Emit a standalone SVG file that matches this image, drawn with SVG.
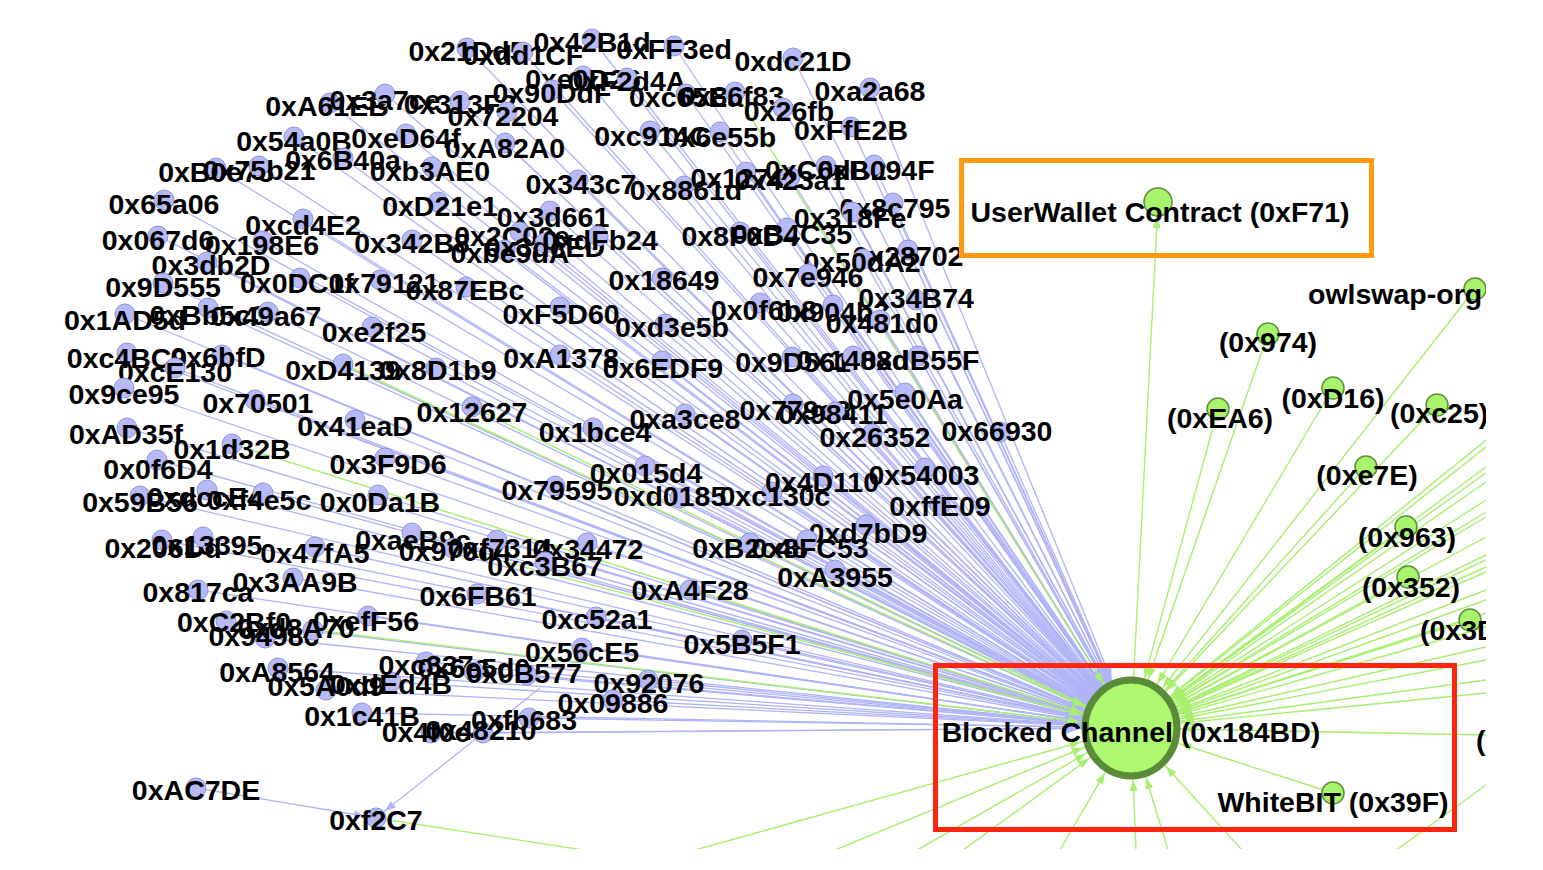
<svg xmlns="http://www.w3.org/2000/svg" width="1543" height="870" viewBox="0 0 1543 870">
<style>
.eb{stroke:#b0b4f7;stroke-width:1.3;fill:none;marker-end:url(#ab)}
.eg{stroke:#a7ef6e;stroke-width:1.4;fill:none;marker-end:url(#ag)}
.en{stroke:#a7ef6e;stroke-width:1.4;fill:none}
.ebs{stroke:#b0b4f7;stroke-width:1.3;fill:none;marker-end:url(#abs)}
.nb circle{fill:#b6baf6;stroke:#9094d8;stroke-width:1}
.ng circle{fill:#a8f46c;stroke:#5e8f3a;stroke-width:1.5}
text{font-family:"Liberation Sans",Arial,sans-serif;font-weight:bold;font-size:28.5px;fill:#000;text-anchor:middle}
text.st{text-anchor:start}
</style>
<defs>
<clipPath id="clip"><rect x="0" y="0" width="1486" height="849"/></clipPath>
<marker id="ab" markerUnits="userSpaceOnUse" orient="auto" refX="51" refY="0" markerWidth="80" markerHeight="20" overflow="visible"><path d="M0,0 L-15,-5.5 L-15,5.5 Z" fill="#b0b4f7"/></marker>
<marker id="ag" markerUnits="userSpaceOnUse" orient="auto" refX="52" refY="0" markerWidth="80" markerHeight="20" overflow="visible"><path d="M0,0 L-11,-4 L-11,4 Z" fill="#a7ef6e"/></marker>
<marker id="abs" markerUnits="userSpaceOnUse" orient="auto" refX="11" refY="0" markerWidth="30" markerHeight="20" overflow="visible"><path d="M0,0 L-11,-4 L-11,4 Z" fill="#b0b4f7"/></marker>
<marker id="agw" markerUnits="userSpaceOnUse" orient="auto" refX="15" refY="0" markerWidth="30" markerHeight="20" overflow="visible"><path d="M0,0 L-11,-4 L-11,4 Z" fill="#a7ef6e"/></marker>
</defs>
<rect width="1543" height="870" fill="#fff"/>
<g clip-path="url(#clip)">
<g id="edges">
<path class="eb" d="M467 48L1131 728"/>
<path class="eb" d="M523 52L1131 728"/>
<path class="eb" d="M592 39L1131 728"/>
<path class="eb" d="M674 46L1131 728"/>
<path class="eb" d="M793 58L1131 728"/>
<path class="eb" d="M583 76L1131 728"/>
<path class="eb" d="M627 78L1131 728"/>
<path class="eb" d="M870 88L1131 728"/>
<path class="eb" d="M552 90L1131 728"/>
<path class="eb" d="M686 94L1131 728"/>
<path class="eb" d="M783 108L1131 728"/>
<path class="eb" d="M330 103L1131 728"/>
<path class="eb" d="M385 94L1131 728"/>
<path class="eb" d="M460 101L1131 728"/>
<path class="eb" d="M507 112L1131 728"/>
<path class="eb" d="M851 127L1131 728"/>
<path class="eb" d="M650 131L1131 728"/>
<path class="eb" d="M720 132L1131 728"/>
<path class="eb" d="M294 137L1131 728"/>
<path class="eb" d="M406 134L1131 728"/>
<path class="eb" d="M505 143L1131 728"/>
<path class="eb" d="M343 158L1131 728"/>
<path class="eb" d="M216 168L1131 728"/>
<path class="eb" d="M259 166L1131 728"/>
<path class="eb" d="M432 167L1131 728"/>
<path class="eb" d="M578 180L1131 728"/>
<path class="eb" d="M684 186L1131 728"/>
<path class="eb" d="M746 172L1131 728"/>
<path class="eb" d="M790 177L1131 728"/>
<path class="eb" d="M826 166L1131 728"/>
<path class="eb" d="M874 165L1131 728"/>
<path class="eb" d="M164 200L1131 728"/>
<path class="eb" d="M438 202L1131 728"/>
<path class="eb" d="M550 211L1131 728"/>
<path class="eb" d="M893 203L1131 728"/>
<path class="eb" d="M852 212L1131 728"/>
<path class="eb" d="M303 219L1131 728"/>
<path class="eb" d="M158 236L1131 728"/>
<path class="eb" d="M263 241L1131 728"/>
<path class="eb" d="M412 240L1131 728"/>
<path class="eb" d="M520 232L1131 728"/>
<path class="eb" d="M505 250L1131 728"/>
<path class="eb" d="M545 243L1131 728"/>
<path class="eb" d="M598 236L1131 728"/>
<path class="eb" d="M740 232L1131 728"/>
<path class="eb" d="M787 228L1131 728"/>
<path class="eb" d="M207 262L1131 728"/>
<path class="eb" d="M908 250L1131 728"/>
<path class="eb" d="M863 259L1131 728"/>
<path class="eb" d="M662 278L1131 728"/>
<path class="eb" d="M808 274L1131 728"/>
<path class="eb" d="M163 283L1131 728"/>
<path class="eb" d="M300 278L1131 728"/>
<path class="eb" d="M380 280L1131 728"/>
<path class="eb" d="M466 287L1131 728"/>
<path class="eb" d="M208 308L1131 728"/>
<path class="eb" d="M268 312L1131 728"/>
<path class="eb" d="M125 314L1131 728"/>
<path class="eb" d="M372 327L1131 728"/>
<path class="eb" d="M560 307L1131 728"/>
<path class="eb" d="M665 324L1131 728"/>
<path class="eb" d="M760 303L1131 728"/>
<path class="eb" d="M833 305L1131 728"/>
<path class="eb" d="M916 300L1131 728"/>
<path class="eb" d="M880 320L1131 728"/>
<path class="eb" d="M127 353L1131 728"/>
<path class="eb" d="M222 355L1131 728"/>
<path class="eb" d="M175 368L1131 728"/>
<path class="eb" d="M436 368L1131 728"/>
<path class="eb" d="M560 355L1131 728"/>
<path class="eb" d="M662 361L1131 728"/>
<path class="eb" d="M792 357L1131 728"/>
<path class="eb" d="M853 356L1131 728"/>
<path class="eb" d="M918 356L1131 728"/>
<path class="eb" d="M124 388L1131 728"/>
<path class="eb" d="M255 400L1131 728"/>
<path class="eb" d="M355 420L1131 728"/>
<path class="eb" d="M593 428L1131 728"/>
<path class="eb" d="M685 414L1131 728"/>
<path class="eb" d="M793 404L1131 728"/>
<path class="eb" d="M835 412L1131 728"/>
<path class="eb" d="M905 393L1131 728"/>
<path class="eb" d="M872 434L1131 728"/>
<path class="eb" d="M1000 432L1131 728"/>
<path class="eb" d="M127 428L1131 728"/>
<path class="eb" d="M157 460L1131 728"/>
<path class="eb" d="M385 458L1131 728"/>
<path class="eb" d="M140 496L1131 728"/>
<path class="eb" d="M207 490L1131 728"/>
<path class="eb" d="M263 493L1131 728"/>
<path class="eb" d="M378 495L1131 728"/>
<path class="eb" d="M645 466L1131 728"/>
<path class="eb" d="M555 486L1131 728"/>
<path class="eb" d="M680 498L1131 728"/>
<path class="eb" d="M772 492L1131 728"/>
<path class="eb" d="M823 476L1131 728"/>
<path class="eb" d="M925 468L1131 728"/>
<path class="eb" d="M940 505L1131 728"/>
<path class="eb" d="M866 525L1131 728"/>
<path class="eb" d="M750 543L1131 728"/>
<path class="eb" d="M807 540L1131 728"/>
<path class="eb" d="M835 570L1131 728"/>
<path class="eb" d="M162 540L1131 728"/>
<path class="eb" d="M203 537L1131 728"/>
<path class="eb" d="M315 547L1131 728"/>
<path class="eb" d="M412 533L1131 728"/>
<path class="eb" d="M497 540L1131 728"/>
<path class="eb" d="M587 543L1131 728"/>
<path class="eb" d="M545 562L1131 728"/>
<path class="eb" d="M198 590L1131 728"/>
<path class="eb" d="M293 578L1131 728"/>
<path class="eb" d="M477 594L1131 728"/>
<path class="eb" d="M690 590L1131 728"/>
<path class="eb" d="M226 621L1131 728"/>
<path class="eb" d="M265 638L1131 728"/>
<path class="eb" d="M368 616L1131 728"/>
<path class="eb" d="M596 617L1131 728"/>
<path class="eb" d="M582 648L1131 728"/>
<path class="eb" d="M742 640L1131 728"/>
<path class="eb" d="M278 668L1131 728"/>
<path class="eb" d="M326 690L1131 728"/>
<path class="eb" d="M391 682L1131 728"/>
<path class="eb" d="M426 662L1131 728"/>
<path class="eb" d="M474 672L1131 728"/>
<path class="eb" d="M527 675L1131 728"/>
<path class="eb" d="M648 680L1131 728"/>
<path class="eb" d="M613 700L1131 728"/>
<path class="eb" d="M362 713L1131 728"/>
<path class="eb" d="M431 733L1131 728"/>
<path class="eb" d="M483 733L1131 728"/>
<path class="eb" d="M529 718L1131 728"/>
<path class="ebs" d="M196 788L376 818"/>
<path class="ebs" d="M540 688L376 818"/>
<path class="eg" d="M735 92L1131 728"/>
<path class="eg" d="M343 364L1131 728"/>
<path class="eg" d="M472 407L1131 728"/>
<path class="eg" d="M232 444L1131 728"/>
<path class="eg" d="M453 548L1131 728"/>
<path class="eg" d="M313 630L1131 728"/>
<path class="en" d="M376 818L590 851"/>
<path class="eg" d="M1475 289L1131 728"/>
<path class="eg" d="M1268 334L1131 728"/>
<path class="eg" d="M1218 409L1131 728"/>
<path class="eg" d="M1333 388L1131 728"/>
<path class="eg" d="M1437 405L1131 728"/>
<path class="eg" d="M1366 467L1131 728"/>
<path class="eg" d="M1406 527L1131 728"/>
<path class="eg" d="M1408 577L1131 728"/>
<path class="eg" d="M1470 620L1131 728"/>
<path class="eg" d="M1333 793L1131 728"/>
<path class="eg" d="M1486 440L1131 728"/>
<path class="eg" d="M1486 447L1131 728"/>
<path class="eg" d="M1486 467L1131 728"/>
<path class="eg" d="M1486 473L1131 728"/>
<path class="eg" d="M1486 482L1131 728"/>
<path class="eg" d="M1486 500L1131 728"/>
<path class="eg" d="M1486 512L1131 728"/>
<path class="eg" d="M1486 517L1131 728"/>
<path class="eg" d="M1486 537L1131 728"/>
<path class="eg" d="M1486 555L1131 728"/>
<path class="eg" d="M1486 560L1131 728"/>
<path class="eg" d="M1486 567L1131 728"/>
<path class="eg" d="M1486 572L1131 728"/>
<path class="eg" d="M1486 590L1131 728"/>
<path class="eg" d="M1486 600L1131 728"/>
<path class="eg" d="M1486 613L1131 728"/>
<path class="eg" d="M1486 627L1131 728"/>
<path class="eg" d="M1486 647L1131 728"/>
<path class="eg" d="M1486 660L1131 728"/>
<path class="eg" d="M1486 680L1131 728"/>
<path class="eg" d="M1486 693L1131 728"/>
<path class="eg" d="M1486 735L1131 728"/>
<path class="eg" d="M695 850L1131 728"/>
<path class="eg" d="M835 850L1131 728"/>
<path class="eg" d="M917 850L1131 728"/>
<path class="eg" d="M963 850L1131 728"/>
<path class="eg" d="M1060 850L1131 728"/>
<path class="eg" d="M1136 850L1131 728"/>
<path class="eg" d="M1168 850L1131 728"/>
<path class="eg" d="M1242 850L1131 728"/>
<path class="en" d="M1486 785L1395 851"/>
<path class="en" d="M1131 728L1158 202" style="marker-end:url(#agw)"/>
</g>
<g id="n1" class="nb"><circle cx="467" cy="48" r="10"/><text x="467" y="61">0x21Dd5</text></g>
<g id="n2" class="nb"><circle cx="523" cy="52" r="10"/><text x="523" y="65">0xdd1CF</text></g>
<g id="n3" class="nb"><circle cx="592" cy="39" r="10"/><text x="592" y="52">0x42B1d</text></g>
<g id="n4" class="nb"><circle cx="674" cy="46" r="10"/><text x="674" y="59">0xFF3ed</text></g>
<g id="n5" class="nb"><circle cx="793" cy="58" r="10"/><text x="793" y="71">0xdc21D</text></g>
<g id="n6" class="nb"><circle cx="583" cy="76" r="10"/><text x="583" y="89">0xe0D26</text></g>
<g id="n7" class="nb"><circle cx="627" cy="78" r="10"/><text x="627" y="91">0xF2d4A</text></g>
<g id="n8" class="nb"><circle cx="870" cy="88" r="10"/><text x="870" y="101">0xa2a68</text></g>
<g id="n9" class="nb"><circle cx="552" cy="90" r="10"/><text x="552" y="103">0x90DdF</text></g>
<g id="n10" class="nb"><circle cx="686" cy="94" r="10"/><text x="686" y="107">0xc65Ea</text></g>
<g id="n11" class="nb"><circle cx="735" cy="92" r="10"/><text x="732" y="106">0x86f83</text></g>
<g id="n12" class="nb"><circle cx="783" cy="108" r="10"/><text x="789" y="121">0x26fb</text></g>
<g id="n13" class="nb"><circle cx="330" cy="103" r="10"/><text x="327" y="116">0xA61EB</text></g>
<g id="n14" class="nb"><circle cx="385" cy="94" r="10"/><text x="385" y="110">0x3a7ce</text></g>
<g id="n15" class="nb"><circle cx="460" cy="101" r="10"/><text x="460" y="114">0x313F2</text></g>
<g id="n16" class="nb"><circle cx="507" cy="112" r="10"/><text x="503" y="126">0x72204</text></g>
<g id="n17" class="nb"><circle cx="851" cy="127" r="10"/><text x="851" y="140">0xFfE2B</text></g>
<g id="n18" class="nb"><circle cx="650" cy="131" r="10"/><text x="652" y="146">0xc914C</text></g>
<g id="n19" class="nb"><circle cx="720" cy="132" r="10"/><text x="720" y="147">0x6e55b</text></g>
<g id="n20" class="nb"><circle cx="294" cy="137" r="10"/><text x="294" y="151">0x54a0B</text></g>
<g id="n21" class="nb"><circle cx="406" cy="134" r="10"/><text x="406" y="148">0xeD64f</text></g>
<g id="n22" class="nb"><circle cx="505" cy="143" r="10"/><text x="505" y="158">0xA82A0</text></g>
<g id="n23" class="nb"><circle cx="343" cy="158" r="10"/><text x="343" y="170">0x6B40a</text></g>
<g id="n24" class="nb"><circle cx="216" cy="168" r="10"/><text x="216" y="182">0xB0e75</text></g>
<g id="n25" class="nb"><circle cx="259" cy="166" r="10"/><text x="259" y="180">0x75b21</text></g>
<g id="n26" class="nb"><circle cx="432" cy="167" r="10"/><text x="430" y="181">0xb3AE0</text></g>
<g id="n27" class="nb"><circle cx="578" cy="180" r="10"/><text x="581" y="194">0x343c7</text></g>
<g id="n28" class="nb"><circle cx="684" cy="186" r="10"/><text x="686" y="200">0x8861d</text></g>
<g id="n29" class="nb"><circle cx="746" cy="172" r="10"/><text x="746" y="188">0x12742</text></g>
<g id="n30" class="nb"><circle cx="790" cy="177" r="10"/><text x="790" y="190">0x423a1</text></g>
<g id="n31" class="nb"><circle cx="826" cy="166" r="10"/><text x="826" y="180">0xC6dB2</text></g>
<g id="n32" class="nb"><circle cx="874" cy="165" r="10"/><text x="876" y="180">0xB094F</text></g>
<g id="n33" class="nb"><circle cx="164" cy="200" r="10"/><text x="164" y="214">0x65a06</text></g>
<g id="n34" class="nb"><circle cx="438" cy="202" r="10"/><text x="440" y="216">0xD21e1</text></g>
<g id="n35" class="nb"><circle cx="550" cy="211" r="10"/><text x="553" y="227">0x3d661</text></g>
<g id="n36" class="nb"><circle cx="893" cy="203" r="10"/><text x="895" y="218">0x8c795</text></g>
<g id="n37" class="nb"><circle cx="852" cy="212" r="10"/><text x="850" y="228">0x318Fe</text></g>
<g id="n38" class="nb"><circle cx="303" cy="219" r="10"/><text x="303" y="235">0xcd4E2</text></g>
<g id="n39" class="nb"><circle cx="158" cy="236" r="10"/><text x="158" y="250">0x067d6</text></g>
<g id="n40" class="nb"><circle cx="263" cy="241" r="10"/><text x="262" y="255">0x198E6</text></g>
<g id="n41" class="nb"><circle cx="412" cy="240" r="10"/><text x="412" y="253">0x342B8</text></g>
<g id="n42" class="nb"><circle cx="520" cy="232" r="10"/><text x="512" y="246">0x2C09e</text></g>
<g id="n43" class="nb"><circle cx="505" cy="250" r="10"/><text x="510" y="263">0xbe9dA</text></g>
<g id="n44" class="nb"><circle cx="545" cy="243" r="10"/><text x="545" y="257">0x3dcED</text></g>
<g id="n45" class="nb"><circle cx="598" cy="236" r="10"/><text x="600" y="250">0xdFb24</text></g>
<g id="n46" class="nb"><circle cx="740" cy="232" r="10"/><text x="740" y="246">0x8F0D4</text></g>
<g id="n47" class="nb"><circle cx="787" cy="228" r="10"/><text x="792" y="244">0xB4C35</text></g>
<g id="n48" class="nb"><circle cx="207" cy="262" r="10"/><text x="211" y="275">0x3db2D</text></g>
<g id="n49" class="nb"><circle cx="908" cy="250" r="10"/><text x="908" y="266">0x28702</text></g>
<g id="n50" class="nb"><circle cx="863" cy="259" r="10"/><text x="862" y="272">0x50dA2</text></g>
<g id="n51" class="nb"><circle cx="662" cy="278" r="10"/><text x="664" y="290">0x18649</text></g>
<g id="n52" class="nb"><circle cx="808" cy="274" r="10"/><text x="808" y="287">0x7e946</text></g>
<g id="n53" class="nb"><circle cx="163" cy="283" r="10"/><text x="163" y="297">0x9D555</text></g>
<g id="n54" class="nb"><circle cx="300" cy="278" r="10"/><text x="297" y="293">0x0DC1f</text></g>
<g id="n55" class="nb"><circle cx="380" cy="280" r="10"/><text x="384" y="293">0x79121</text></g>
<g id="n56" class="nb"><circle cx="466" cy="287" r="10"/><text x="465" y="300">0x87EBc</text></g>
<g id="n57" class="nb"><circle cx="208" cy="308" r="10"/><text x="208" y="325">0xBb5c0</text></g>
<g id="n58" class="nb"><circle cx="268" cy="312" r="10"/><text x="266" y="326">0x49a67</text></g>
<g id="n59" class="nb"><circle cx="125" cy="314" r="10"/><text x="125" y="330">0x1AD5d</text></g>
<g id="n60" class="nb"><circle cx="372" cy="327" r="10"/><text x="374" y="342">0xe2f25</text></g>
<g id="n61" class="nb"><circle cx="560" cy="307" r="10"/><text x="561" y="324">0xF5D60</text></g>
<g id="n62" class="nb"><circle cx="665" cy="324" r="10"/><text x="672" y="337">0xd3e5b</text></g>
<g id="n63" class="nb"><circle cx="760" cy="303" r="10"/><text x="764" y="320">0x0f6b8</text></g>
<g id="n64" class="nb"><circle cx="833" cy="305" r="10"/><text x="833" y="322">0x904b3</text></g>
<g id="n65" class="nb"><circle cx="916" cy="300" r="10"/><text x="916" y="308">0x34B74</text></g>
<g id="n66" class="nb"><circle cx="880" cy="320" r="10"/><text x="882" y="333">0x481d0</text></g>
<g id="n67" class="nb"><circle cx="127" cy="353" r="10"/><text x="127" y="368">0xc4BC9</text></g>
<g id="n68" class="nb"><circle cx="222" cy="355" r="10"/><text x="218" y="367">0x6bfD</text></g>
<g id="n69" class="nb"><circle cx="175" cy="368" r="10"/><text x="175" y="382">0xcE130</text></g>
<g id="n70" class="nb"><circle cx="343" cy="364" r="10"/><text x="343" y="380">0xD4139</text></g>
<g id="n71" class="nb"><circle cx="436" cy="368" r="10"/><text x="438" y="380">0x8D1b9</text></g>
<g id="n72" class="nb"><circle cx="560" cy="355" r="10"/><text x="561" y="368">0xA1378</text></g>
<g id="n73" class="nb"><circle cx="662" cy="361" r="10"/><text x="663" y="378">0x6EDF9</text></g>
<g id="n74" class="nb"><circle cx="792" cy="357" r="10"/><text x="793" y="372">0x9D561</text></g>
<g id="n75" class="nb"><circle cx="853" cy="356" r="10"/><text x="853" y="370">0x1488d</text></g>
<g id="n76" class="nb"><circle cx="918" cy="356" r="10"/><text x="920" y="370">0xdB55F</text></g>
<g id="n77" class="nb"><circle cx="124" cy="388" r="10"/><text x="124" y="404">0x9ce95</text></g>
<g id="n78" class="nb"><circle cx="255" cy="400" r="10"/><text x="258" y="413">0x70501</text></g>
<g id="n79" class="nb"><circle cx="355" cy="420" r="10"/><text x="355" y="436">0x41eaD</text></g>
<g id="n80" class="nb"><circle cx="472" cy="407" r="10"/><text x="472" y="422">0x12627</text></g>
<g id="n81" class="nb"><circle cx="593" cy="428" r="10"/><text x="595" y="442">0x1bce4</text></g>
<g id="n82" class="nb"><circle cx="685" cy="414" r="10"/><text x="685" y="429">0xa3ce8</text></g>
<g id="n83" class="nb"><circle cx="793" cy="404" r="10"/><text x="795" y="420">0x779e8</text></g>
<g id="n84" class="nb"><circle cx="835" cy="412" r="10"/><text x="833" y="424">0x98411</text></g>
<g id="n85" class="nb"><circle cx="905" cy="393" r="10"/><text x="905" y="409">0x5e0Aa</text></g>
<g id="n86" class="nb"><circle cx="872" cy="434" r="10"/><text x="875" y="447">0x26352</text></g>
<g id="n87" class="nb"><circle cx="1000" cy="432" r="10"/><text x="997" y="441">0x66930</text></g>
<g id="n88" class="nb"><circle cx="127" cy="428" r="10"/><text x="126" y="444">0xAD35f</text></g>
<g id="n89" class="nb"><circle cx="232" cy="444" r="10"/><text x="232" y="459">0x1d32B</text></g>
<g id="n90" class="nb"><circle cx="157" cy="460" r="10"/><text x="158" y="479">0x0f6D4</text></g>
<g id="n91" class="nb"><circle cx="385" cy="458" r="10"/><text x="388" y="474">0x3F9D6</text></g>
<g id="n92" class="nb"><circle cx="140" cy="496" r="10"/><text x="140" y="512">0x59B56</text></g>
<g id="n93" class="nb"><circle cx="207" cy="490" r="10"/><text x="205" y="507">0xdccE4</text></g>
<g id="n94" class="nb"><circle cx="263" cy="493" r="10"/><text x="259" y="510">0xf4e5c</text></g>
<g id="n95" class="nb"><circle cx="378" cy="495" r="10"/><text x="380" y="512">0x0Da1B</text></g>
<g id="n96" class="nb"><circle cx="645" cy="466" r="10"/><text x="646" y="483">0x015d4</text></g>
<g id="n97" class="nb"><circle cx="555" cy="486" r="10"/><text x="557" y="500">0x79595</text></g>
<g id="n98" class="nb"><circle cx="680" cy="498" r="10"/><text x="670" y="506">0xd0185</text></g>
<g id="n99" class="nb"><circle cx="772" cy="492" r="10"/><text x="775" y="506">0xc130c</text></g>
<g id="n100" class="nb"><circle cx="823" cy="476" r="10"/><text x="822" y="492">0x4D110</text></g>
<g id="n101" class="nb"><circle cx="925" cy="468" r="10"/><text x="924" y="485">0x54003</text></g>
<g id="n102" class="nb"><circle cx="940" cy="505" r="10"/><text x="940" y="516">0xffE09</text></g>
<g id="n103" class="nb"><circle cx="866" cy="525" r="10"/><text x="868" y="543">0xd7bD9</text></g>
<g id="n104" class="nb"><circle cx="750" cy="543" r="10"/><text x="750" y="558">0xB2c48</text></g>
<g id="n105" class="nb"><circle cx="807" cy="540" r="10"/><text x="810" y="558">0x8FC53</text></g>
<g id="n106" class="nb"><circle cx="835" cy="570" r="10"/><text x="835" y="587">0xA3955</text></g>
<g id="n107" class="nb"><circle cx="162" cy="540" r="10"/><text x="163" y="558">0x206Dd</text></g>
<g id="n108" class="nb"><circle cx="203" cy="537" r="10"/><text x="207" y="555">0x13395</text></g>
<g id="n109" class="nb"><circle cx="315" cy="547" r="10"/><text x="315" y="563">0x47fA5</text></g>
<g id="n110" class="nb"><circle cx="412" cy="533" r="10"/><text x="413" y="550">0xaeB9c</text></g>
<g id="n111" class="nb"><circle cx="453" cy="548" r="10"/><text x="455" y="561">0x970d4</text></g>
<g id="n112" class="nb"><circle cx="497" cy="540" r="10"/><text x="500" y="558">0xf7314</text></g>
<g id="n113" class="nb"><circle cx="587" cy="543" r="10"/><text x="588" y="559">0x34472</text></g>
<g id="n114" class="nb"><circle cx="545" cy="562" r="10"/><text x="545" y="576">0xc3B67</text></g>
<g id="n115" class="nb"><circle cx="198" cy="590" r="10"/><text x="198" y="602">0x817ca</text></g>
<g id="n116" class="nb"><circle cx="293" cy="578" r="10"/><text x="295" y="592">0x3AA9B</text></g>
<g id="n117" class="nb"><circle cx="477" cy="594" r="10"/><text x="478" y="606">0x6FB61</text></g>
<g id="n118" class="nb"><circle cx="690" cy="590" r="10"/><text x="690" y="600">0xA4F28</text></g>
<g id="n119" class="nb"><circle cx="226" cy="621" r="10"/><text x="234" y="632">0xC2Bf0</text></g>
<g id="n120" class="nb"><circle cx="265" cy="638" r="10"/><text x="264" y="646">0x94986</text></g>
<g id="n121" class="nb"><circle cx="313" cy="630" r="10"/><text x="296" y="638">0xd8A70</text></g>
<g id="n122" class="nb"><circle cx="368" cy="616" r="10"/><text x="366" y="631">0xefF56</text></g>
<g id="n123" class="nb"><circle cx="596" cy="617" r="10"/><text x="597" y="629">0xc52a1</text></g>
<g id="n124" class="nb"><circle cx="582" cy="648" r="10"/><text x="582" y="662">0x56cE5</text></g>
<g id="n125" class="nb"><circle cx="742" cy="640" r="10"/><text x="742" y="654">0x5B5F1</text></g>
<g id="n126" class="nb"><circle cx="278" cy="668" r="10"/><text x="277" y="682">0xA8564</text></g>
<g id="n127" class="nb"><circle cx="326" cy="690" r="10"/><text x="326" y="696">0x5A0d9</text></g>
<g id="n128" class="nb"><circle cx="391" cy="682" r="10"/><text x="391" y="694">0xdEd4B</text></g>
<g id="n129" class="nb"><circle cx="426" cy="662" r="10"/><text x="434" y="675">0xc337c</text></g>
<g id="n130" class="nb"><circle cx="474" cy="672" r="10"/><text x="474" y="678">0x6e5d0</text></g>
<g id="n131" class="nb"><circle cx="527" cy="675" r="10"/><text x="524" y="683">0x0B577</text></g>
<g id="n132" class="nb"><circle cx="648" cy="680" r="10"/><text x="649" y="693">0x92076</text></g>
<g id="n133" class="nb"><circle cx="613" cy="700" r="10"/><text x="613" y="713">0x09886</text></g>
<g id="n134" class="nb"><circle cx="362" cy="713" r="10"/><text x="362" y="726">0x1c41B</text></g>
<g id="n135" class="nb"><circle cx="431" cy="733" r="10"/><text x="434" y="742">0x4f0c4</text></g>
<g id="n136" class="nb"><circle cx="483" cy="733" r="10"/><text x="481" y="740">0x48210</text></g>
<g id="n137" class="nb"><circle cx="529" cy="718" r="10"/><text x="524" y="730">0xfb683</text></g>
<g id="n138" class="nb"><circle cx="196" cy="788" r="10"/><text x="196" y="800">0xAC7DE</text></g>
<g id="n139" class="nb"><circle cx="376" cy="818" r="10"/><text x="376" y="830">0xf2C7</text></g>
<g id="g-userwallet" class="ng"><circle cx="1158" cy="202" r="14"/><text x="1160" y="222">UserWallet Contract (0xF71)</text></g>
<g id="g-owlswap" class="ng"><circle cx="1475" cy="289" r="11"/><text class="st" x="1308" y="304">owlswap-org</text></g>
<g id="g-974" class="ng"><circle cx="1268" cy="334" r="11"/><text x="1268" y="352">(0x974)</text></g>
<g id="g-EA6" class="ng"><circle cx="1218" cy="409" r="11"/><text x="1220" y="428">(0xEA6)</text></g>
<g id="g-D16" class="ng"><circle cx="1333" cy="388" r="11"/><text x="1333" y="408">(0xD16)</text></g>
<g id="g-c25" class="ng"><circle cx="1437" cy="405" r="11"/><text class="st" x="1390" y="423">(0xc25)</text></g>
<g id="g-e7E" class="ng"><circle cx="1366" cy="467" r="11"/><text x="1367" y="485">(0xe7E)</text></g>
<g id="g-963" class="ng"><circle cx="1406" cy="527" r="11"/><text x="1407" y="547">(0x963)</text></g>
<g id="g-352" class="ng"><circle cx="1408" cy="577" r="11"/><text x="1411" y="597">(0x352)</text></g>
<g id="g-3D" class="ng"><circle cx="1470" cy="620" r="11"/><text class="st" x="1420" y="640">(0x3D</text></g>
<g id="g-paren" class="ng"><text class="st" x="1476" y="750">(</text></g>
<g id="g-whitebit" class="ng"><circle cx="1333" cy="793" r="11"/><text x="1333" y="812">WhiteBIT (0x39F)</text></g>
<g id="g-hub"><ellipse cx="1131" cy="728" rx="46" ry="48" fill="#aef870" stroke="#5b8a38" stroke-width="7"/><text x="1131" y="742">Blocked Channel (0x184BD)</text></g>
</g>
<g id="annotations">
<rect x="961.5" y="160.5" width="410" height="95" fill="none" stroke="#ff9a10" stroke-width="5"/>
<rect x="935.5" y="665.5" width="519" height="164" fill="none" stroke="#ff2410" stroke-width="5"/>
</g>
</svg>
